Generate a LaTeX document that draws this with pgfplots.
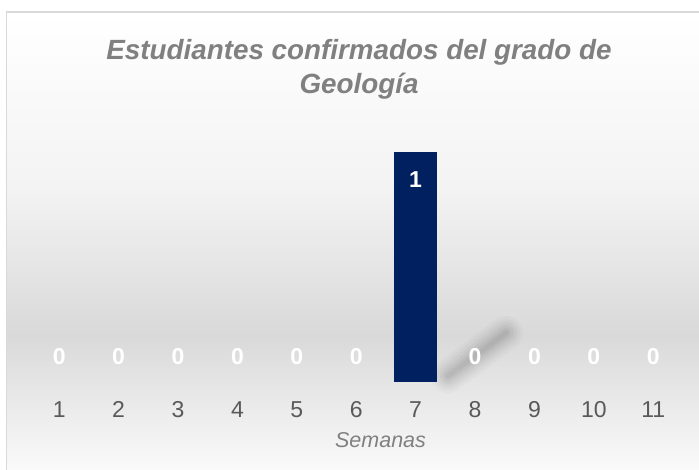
\documentclass[border=0pt]{standalone}
\usepackage{fontspec}
\setmainfont{Liberation Sans}
\usepackage{pgfplots}
\usepackage{pgfplotstable}
\pgfplotsset{compat=1.18}
\definecolor{barblue}{HTML}{002060}
\definecolor{titlegray}{HTML}{808080}
\definecolor{tickgray}{HTML}{595959}
\definecolor{bordergray}{HTML}{D9D9D9}
\definecolor{bgA}{HTML}{F3F3F3}
\definecolor{bgB}{HTML}{D9D9D9}
\definecolor{bgC}{HTML}{FBFBFB}
\pgfplotstableread{
semana estudiantes
1 0
2 0
3 0
4 0
5 0
6 0
7 1
8 0
9 0
10 0
11 0
}\datatable
\begin{document}
\begin{tikzpicture}
\useasboundingbox (0pt,0pt) rectangle (699pt,469pt);
\begin{scope}
\clip (0pt,0pt) rectangle (699pt,469pt);
\shade[top color=white, bottom color=bgA] (6.5pt,280pt) rectangle (720pt,457pt);
\shade[top color=bgA, bottom color=bgB] (6.5pt,134pt) rectangle (720pt,280.2pt);
\shade[top color=bgB, bottom color=bgC] (6.5pt,-5pt) rectangle (720pt,134.2pt);
\draw[bordergray, line width=1.2pt] (6.5pt,-5pt) |- (720pt,457pt);
\foreach \w/\o in {34/0.02, 28/0.025, 22/0.03, 16/0.035, 10/0.04, 5/0.04}
  \draw[line width=\w pt, line cap=round, black, opacity=\o] (448pt,93pt) -- (506pt,136pt);
\end{scope}
\begin{axis}[
  at={(29.5pt,87pt)}, anchor=south west,
  scale only axis, width=653.4pt, height=230pt,
  xmin=0.5, xmax=11.5, ymin=0, ymax=1,
  clip=false,
  axis line style={draw=none},
  major tick length=0pt,
  ytick=\empty,
  xtick={1,2,3,4,5,6,7,8,9,10,11},
  /pgf/number format/assume math mode=true,
  xticklabel style={font=\fontsize{23}{27}\selectfont, text=tickgray, anchor=north, inner sep=0pt, yshift=-19.5pt},
  xlabel={Semanas},
  xlabel style={at={(axis description cs:0.5372,-0.2839)}, anchor=base, inner sep=0pt,
    font=\fontsize{21.5}{25}\selectfont\itshape, text=titlegray},
  title={Estudiantes confirmados del grado de\\Geología},
  title style={at={(axis description cs:0.5043,1.463)}, anchor=north, inner sep=0pt, align=center,
    font=\fontsize{27.8}{33.4}\selectfont\bfseries\itshape, text=titlegray},
]
% bars (zero-height bars are not drawn)
\addplot[ybar, bar width=43pt, fill=barblue, draw=none,
  unbounded coords=discard,
  y filter/.expression={y==0 ? nan : y},
] table[x=semana, y=estudiantes] {\datatable};
% value labels
\addplot[only marks, mark=none,
  nodes near coords,
  visualization depends on={y \as \rawy},
  every node near coord/.style={anchor=center, text=white, inner sep=0pt,
    font=\fontsize{23}{27}\selectfont\bfseries,
    yshift={(\rawy>0.5)*(-53.5)+25.5}},
] table[x=semana, y=estudiantes] {\datatable};
\end{axis}
\end{tikzpicture}
\end{document}
